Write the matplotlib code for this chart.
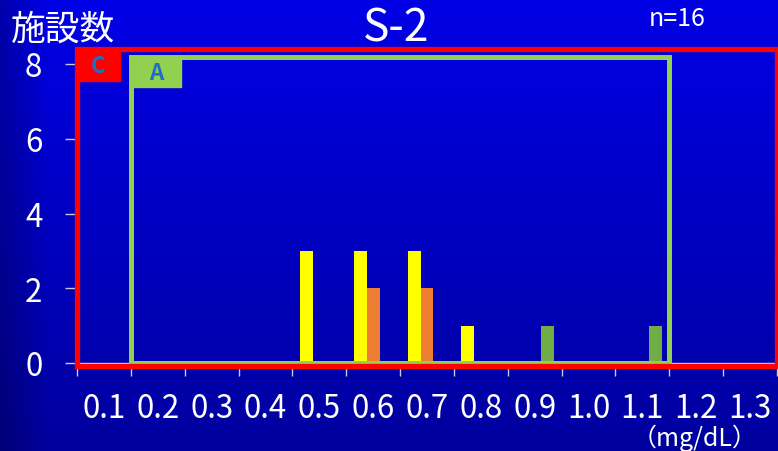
import numpy as np
import matplotlib
matplotlib.use('Agg')
import matplotlib.pyplot as plt
from matplotlib.patches import Rectangle

plt.rcParams['font.family'] = ['Noto Sans CJK JP', 'DejaVu Sans']

# data
categories = ['0.1', '0.2', '0.3', '0.4', '0.5', '0.6', '0.7',
              '0.8', '0.9', '1.0', '1.1', '1.2', '1.3']
yellow_vals = [0, 0, 0, 0, 3, 3, 3, 1, 0, 0, 0, 0, 0]
orange_vals = [0, 0, 0, 0, 0, 2, 2, 0, 0, 0, 0, 0, 0]
green_vals = [0, 0, 0, 0, 0, 0, 0, 0, 1, 0, 1, 0, 0]
yticks = [0, 2, 4, 6, 8]
range_c = ('0.1', '1.3')   # red frame
range_a = ('0.2', '1.1')   # green frame

W, H = 778, 452
fig = plt.figure(figsize=(W / 100, H / 100), dpi=100)

# background gradient
bg = fig.add_axes([0, 0, 1, 1], zorder=-10)
yy = np.linspace(0, 1, 200)[:, None]
xx = np.linspace(0, 1, 400)[None, :]
blue = 230 - 72 * yy
edge = 1 - 0.25 * np.clip(1 - xx / 0.06, 0, 1)
img = np.zeros((200, 400, 3))
img[..., 2] = (blue * edge) / 255
bg.imshow(img, aspect='auto', extent=[0, 1, 0, 1])
bg.axis('off')

ax = fig.add_axes([77 / W, 1 - 364 / H, 700 / W, 299 / H])
ax.patch.set_alpha(0)

x = np.arange(len(categories))
bw = 0.24
ax.bar(x - bw, yellow_vals, bw, color='#FFFF00', zorder=3)
ax.bar(x, orange_vals, bw, color='#ED7D31', zorder=3)
ax.bar(x + bw, green_vals, bw, color='#70AD47', zorder=3)

ax.set_xlim(-0.5, len(categories) - 0.5)
ax.set_ylim(0, 8)

# category boundaries as ticks, labels at centers
ax.set_xticks(np.arange(-0.5, len(categories), 1))
ax.set_xticklabels([])
ax.set_xticks(x, minor=True)
ax.set_xticklabels(categories, minor=True, fontsize=22.5, color='white')
ax.tick_params(axis='x', which='major', length=9, color='#C8C8E0', width=1)
ax.tick_params(axis='x', which='minor', length=0, pad=21)

ax.set_yticks(yticks)
ax.set_yticklabels([str(v) for v in yticks], fontsize=22.5, color='white')
ax.tick_params(axis='y', length=9, color='#C8C8E0', width=1, pad=16)

for s in ['top', 'right', 'left']:
    ax.spines[s].set_visible(False)
ax.spines['bottom'].set_color('#D0D0E8')
ax.spines['bottom'].set_linewidth(1)

# frames
ci0, ci1 = categories.index(range_c[0]), categories.index(range_c[1])
ai0, ai1 = categories.index(range_a[0]), categories.index(range_a[1])
ax.add_patch(Rectangle((ci0 - 0.5, -0.08), ci1 - ci0 + 1, 8.48, fill=False,
                       edgecolor='#FF0000', lw=3.8, zorder=5, clip_on=False))
ax.add_patch(Rectangle((ai0 - 0.5, 0), ai1 - ai0 + 1, 8.2, fill=False,
                       edgecolor='#92D050', lw=3.6, zorder=4, clip_on=False))

# label boxes
ax.add_patch(Rectangle((ci0 - 0.5, 7.54), 0.8, 0.86, color='#FF0000',
                       zorder=6, clip_on=False))
ax.text(ci0 - 0.1, 7.95, 'C', color='#1F6FC8', fontsize=16, fontweight='bold',
        ha='center', va='center', zorder=7)
ax.add_patch(Rectangle((ai0 - 0.5, 7.38), 0.93, 0.82, color='#92D050',
                       zorder=6, clip_on=False))
ax.text(ai0 - 0.035, 7.78, 'A', color='#1F6FC8', fontsize=16, fontweight='bold',
        ha='center', va='center', zorder=7)

fig.text(11 / W, 1 - 30 / H, '施設数', color='white', fontsize=25,
         ha='left', va='center')
fig.text(396 / W, 1 - 29 / H, 'S-2', color='white', fontsize=32,
         ha='center', va='center')
fig.text(677 / W, 1 - 19 / H, 'n=16', color='white', fontsize=18,
         ha='center', va='center')
fig.text(695 / W, 1 - 438 / H, '（mg/dL）', color='white', fontsize=18,
         ha='center', va='center')

fig.savefig('out.png', dpi=100)
